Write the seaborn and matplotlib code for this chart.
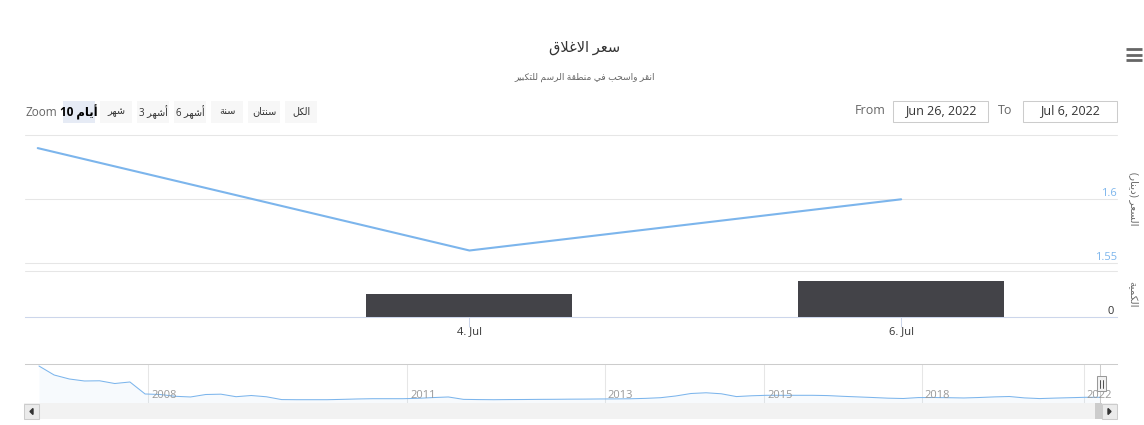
### Closing price chart (Highstock style) with seaborn ###

import matplotlib
matplotlib.use('Agg')
import matplotlib.pyplot as plt
import matplotlib.patches as mpatches
import matplotlib.lines as mlines
import matplotlib.transforms as mtransforms
import pandas as pd
import seaborn as sns

# Data
dates = pd.to_datetime(['2022-07-02', '2022-07-04', '2022-07-06'])
price = [1.64, 1.56, 1.60]
volume = [0, 5070, 7890]
x_ticks = pd.to_datetime(['2022-07-04', '2022-07-06'])
x_tick_labels = ['4. Jul', '6. Jul']
price_ticks = [1.55, 1.60, 1.65]
price_tick_labels = ['1.55', '1.6', '']

# navigator: full history, one value per step of the ordinal axis
nav_values = [6.30, 4.95, 4.35, 4.05, 4.08, 3.67, 3.90, 2.10, 2.02, 1.75,
              1.65, 2.02, 2.07, 1.69, 1.87, 1.68, 1.26, 1.24, 1.24, 1.24,
              1.29, 1.35, 1.39, 1.39, 1.39, 1.45, 1.56, 1.65, 1.29, 1.26,
              1.24, 1.26, 1.27, 1.29, 1.30, 1.32, 1.33, 1.35, 1.36, 1.38,
              1.44, 1.54, 1.80, 2.17, 2.28, 2.13, 1.71, 1.83, 1.90, 1.90,
              1.90, 1.90, 1.86, 1.75, 1.66, 1.57, 1.47, 1.42, 1.56, 1.57,
              1.54, 1.50, 1.57, 1.66, 1.72, 1.51, 1.41, 1.48, 1.54, 1.60,
              1.60]
nav_years = ['2008', '2011', '2013', '2015', '2018', '2022']
nav_year_pos = [7.21, 24.3, 37.3, 47.85, 58.24, 68.9]

title = 'سعر الاغلاق'
subtitle = 'انقر واسحب في منطقة الرسم للتكبير'
price_title = 'السعر (دينار)'
volume_title = 'الكمية'
range_buttons = [('10 ', 'أيام'), ('', 'شهر'), ('3 ', 'أشهر'), ('6 ', 'أشهر'),
                 ('', 'سنة'), ('', 'سنتان'), ('', 'الكل')]
date_from = 'Jun 26, 2022'
date_to = 'Jul 6, 2022'

# matplotlib has no Arabic shaping, so join the letters by hand
FORMS = {'ء': (0xFE80, 1), 'آ': (0xFE81, 2), 'أ': (0xFE83, 2), 'ؤ': (0xFE85, 2),
         'إ': (0xFE87, 2), 'ئ': (0xFE89, 4), 'ا': (0xFE8D, 2), 'ب': (0xFE8F, 4),
         'ة': (0xFE93, 2), 'ت': (0xFE95, 4), 'ث': (0xFE99, 4), 'ج': (0xFE9D, 4),
         'ح': (0xFEA1, 4), 'خ': (0xFEA5, 4), 'د': (0xFEA9, 2), 'ذ': (0xFEAB, 2),
         'ر': (0xFEAD, 2), 'ز': (0xFEAF, 2), 'س': (0xFEB1, 4), 'ش': (0xFEB5, 4),
         'ص': (0xFEB9, 4), 'ض': (0xFEBD, 4), 'ط': (0xFEC1, 4), 'ظ': (0xFEC5, 4),
         'ع': (0xFEC9, 4), 'غ': (0xFECD, 4), 'ف': (0xFED1, 4), 'ق': (0xFED5, 4),
         'ك': (0xFED9, 4), 'ل': (0xFEDD, 4), 'م': (0xFEE1, 4), 'ن': (0xFEE5, 4),
         'ه': (0xFEE9, 4), 'و': (0xFEED, 2), 'ى': (0xFEEF, 2), 'ي': (0xFEF1, 4)}
LAM_ALEF = {'آ': 0xFEF5, 'أ': 0xFEF7, 'إ': 0xFEF9, 'ا': 0xFEFB}


def ar(s):
    toks = []
    i = 0
    while i < len(s):
        if s[i] == 'ل' and i + 1 < len(s) and s[i + 1] in LAM_ALEF:
            toks.append(('LA', s[i + 1]))
            i += 2
        else:
            toks.append(s[i])
            i += 1

    def joins_next(t):
        return t in FORMS and FORMS[t][1] == 4

    def joins_prev(t):
        return isinstance(t, tuple) or (t in FORMS and FORMS[t][1] > 1)

    out = []
    for j, t in enumerate(toks):
        prev_ok = j > 0 and joins_next(toks[j - 1]) and joins_prev(t)
        next_ok = j + 1 < len(toks) and joins_next(t) and joins_prev(toks[j + 1])
        if isinstance(t, tuple):
            out.append(chr(LAM_ALEF[t[1]] + (1 if prev_ok else 0)))
        elif t in FORMS:
            start, n = FORMS[t]
            if n == 1:
                form = 0
            elif n == 2:
                form = 1 if prev_ok else 0
            else:
                form = 3 if (prev_ok and next_ok) else 1 if prev_ok else 2 if next_ok else 0
            out.append(chr(start + form))
        else:
            out.append(t)
    vis = ''.join(reversed(out))
    return vis.translate(str.maketrans('()', ')('))


sns.set_theme(style='white')
plt.rcParams['font.family'] = ['Open Sans', 'DejaVu Sans']

W, H = 1144, 425
BLUE = '#7cb5ec'
GRID = '#e6e6e6'


def box(x0, y0, x1, y1):
    return [x0 / W, 1 - y1 / H, (x1 - x0) / W, (y1 - y0) / H]


def fx(x):
    return x / W


def fy(y):
    return 1 - y / H


fig = plt.figure(figsize=(W / 100, H / 100), dpi=100)

# price panel
ax = fig.add_axes(box(25, 135.3, 1117, 263.3))
sns.lineplot(x=dates, y=price, ax=ax, color=BLUE, linewidth=1.5)
xlim = (pd.Timestamp('2022-07-01 22:35'), pd.Timestamp('2022-07-07 00:00'))
ax.set_xlim(xlim)
ax.set_ylim(1.55, 1.65)
ax.set_yticks(price_ticks)
ax.set_yticklabels([])
ax.set_xticks([])
ax.grid(axis='y', color=GRID, linewidth=0.75)
for gl in ax.get_ygridlines():
    gl.set_clip_on(False)
ax.tick_params(left=False, right=False, bottom=False)
for s in ax.spines.values():
    s.set_visible(False)
ax.set_xlabel('')
ax.set_ylabel('')
trans = mtransforms.blended_transform_factory(ax.transAxes, ax.transData)
for v, lab in zip(price_ticks, price_tick_labels):
    ax.text(1.0, v, lab, transform=trans, ha='right', va='bottom',
            fontsize=8, color=BLUE)

# volume panel
axv = fig.add_axes(box(25, 271.3, 1117, 317.3))
axv.bar(dates, volume, width=0.954, color='#434348', linewidth=0)
axv.set_xlim(xlim)
axv.set_ylim(0, 10000)
axv.set_yticks([0, 10000])
axv.set_yticklabels([])
axv.grid(axis='y', color=GRID, linewidth=0.75)
for gl in axv.get_ygridlines():
    gl.set_clip_on(False)
for s in axv.spines.values():
    s.set_visible(False)
axv.spines['bottom'].set_visible(True)
axv.spines['bottom'].set_color('#ccd6eb')
axv.spines['bottom'].set_linewidth(0.75)
axv.set_xticks(x_ticks)
axv.set_xticklabels(x_tick_labels)
axv.tick_params(axis='x', bottom=True, length=7.5, width=0.75, color='#ccd6eb',
                labelsize=8, labelcolor='#333333', pad=-1.2)
axv.tick_params(axis='y', left=False)
transv = mtransforms.blended_transform_factory(axv.transAxes, axv.transData)
axv.text(0.997, 0, '0', transform=transv, ha='right', va='bottom',
         fontsize=8, color='#333333')

# axis titles on the right
fig.text(fx(1133), fy(199), ar(price_title), rotation=-90, ha='center', va='center',
         fontsize=7.5, color='#666666')
fig.text(fx(1133), fy(294), ar(volume_title), rotation=-90, ha='center', va='center',
         fontsize=7.5, color='#666666')

# navigator
axn = fig.add_axes(box(25, 364, 1117, 403.3))
nav_x = list(range(len(nav_values)))
axn.fill_between(nav_x, nav_values, 0, color=BLUE, alpha=0.06, linewidth=0)
sns.lineplot(x=nav_x, y=nav_values, ax=axn, color=BLUE, linewidth=0.75)
axn.set_xlim(-0.92, 71.1)
axn.set_ylim(0.70, 6.60)
axn.set_xticks(nav_year_pos)
axn.set_xticklabels([])
axn.set_yticks([])
axn.grid(axis='x', color=GRID, linewidth=0.75)
axn.tick_params(bottom=False, left=False)
for s in axn.spines.values():
    s.set_visible(False)
axn.spines['top'].set_visible(True)
axn.spines['top'].set_color('#cccccc')
axn.spines['top'].set_linewidth(0.75)
for pos, lab in zip(nav_year_pos, nav_years):
    axn.annotate(lab, (pos, 0.2), xycoords=('data', 'axes fraction'),
                 xytext=(2, 0), textcoords='offset points', ha='left', va='center',
                 fontsize=8, color='#999999')
axn.axvline(len(nav_values) - 1, color='#cccccc', linewidth=0.75)
axn.set_xlabel('')
axn.set_ylabel('')

# navigator handle
fig.add_artist(mpatches.Rectangle((fx(1097), fy(391)), 9 / W, 15 / H,
                                  transform=fig.transFigure, facecolor='#f2f2f2',
                                  edgecolor='#999999', linewidth=0.75))
for hx in [1100, 1102.5]:
    fig.add_artist(mlines.Line2D([fx(hx), fx(hx)], [fy(380), fy(388)],
                                 transform=fig.transFigure, color='#333333', linewidth=0.6))

# scrollbar
fig.add_artist(mpatches.Rectangle((fx(24), fy(418.7)), 1093 / W, 15.4 / H,
                                  transform=fig.transFigure, facecolor='#f2f2f2',
                                  edgecolor='none'))
fig.add_artist(mpatches.Rectangle((fx(1095), fy(418.7)), 7 / W, 15.4 / H,
                                  transform=fig.transFigure, facecolor='#cccccc',
                                  edgecolor='none'))
for bx in [24, 1102]:
    fig.add_artist(mpatches.Rectangle((fx(bx), fy(418.7)), 15 / W, 15 / H,
                                      transform=fig.transFigure, facecolor='#ebebeb',
                                      edgecolor='#cccccc', linewidth=0.75))
fig.add_artist(mpatches.Polygon([(fx(30), fy(411.5)), (fx(33), fy(408.5)), (fx(33), fy(414.5))],
                                transform=fig.transFigure, color='#333333'))
fig.add_artist(mpatches.Polygon([(fx(1111), fy(411.5)), (fx(1108), fy(408.5)), (fx(1108), fy(414.5))],
                                transform=fig.transFigure, color='#333333'))

# title and subtitle
fig.text(fx(585), fy(48), ar(title), ha='center', va='center', fontsize=10.5, color='#333333')
fig.text(fx(585), fy(77), ar(subtitle), ha='center', va='center', fontsize=6.6, color='#666666')

# range selector buttons
fig.text(fx(25), fy(112), 'Zoom', ha='left', va='center', fontsize=8.5, color='#666666')
for k, (num, word) in enumerate(range_buttons):
    x0 = 63 + 37 * k
    selected = k == 0
    fig.add_artist(mpatches.Rectangle((fx(x0), fy(123)), 32 / W, 22 / H,
                                      transform=fig.transFigure,
                                      facecolor='#e6ebf5' if selected else '#f7f7f7',
                                      edgecolor='none'))
    fig.text(fx(x0 + 16), fy(112), num + ar(word), ha='center', va='center',
             fontsize=8.5 if selected else 7, color='#000000' if selected else '#333333',
             fontweight='bold' if selected else 'normal')

# date inputs
fig.text(fx(886), fy(111), 'From', ha='right', va='center', fontsize=9, color='#666666')
fig.text(fx(1012), fy(111), 'To', ha='right', va='center', fontsize=9, color='#666666')
for (x0, x1), lab in zip([(893, 988), (1023, 1117)], [date_from, date_to]):
    fig.add_artist(mpatches.Rectangle((fx(x0), fy(122.3)), (x1 - x0) / W, 21.6 / H,
                                      transform=fig.transFigure, facecolor='white',
                                      edgecolor='#cccccc', linewidth=0.75))
    fig.text(fx((x0 + x1) / 2), fy(111), lab, ha='center', va='center',
             fontsize=9, color='#333333')

# export menu icon
for yy in [49.3, 54.5, 59.7]:
    fig.add_artist(mlines.Line2D([fx(1125.7), fx(1142.3)], [fy(yy), fy(yy)],
                                 transform=fig.transFigure, color='#666666',
                                 linewidth=2, solid_capstyle='butt'))

plt.savefig('out.png', dpi=100)
